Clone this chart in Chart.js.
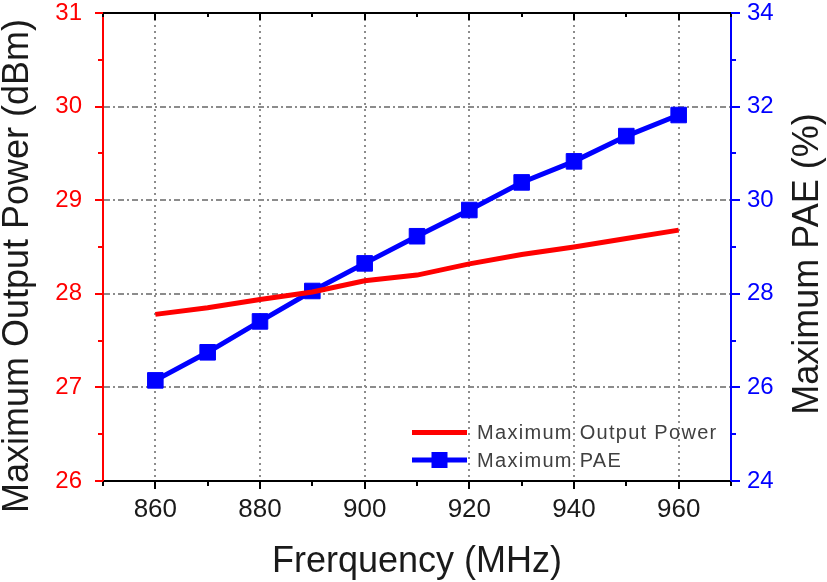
<!DOCTYPE html>
<html>
<head>
<meta charset="utf-8">
<script src="https://cdn.jsdelivr.net/npm/chart.js@4.4.1/dist/chart.umd.min.js"></script>
<style>
  html, body { margin: 0; padding: 0; background: #ffffff; }
  #wrap { width: 827px; height: 582px; position: relative; }
</style>
</head>
<body>
<div id="wrap"><canvas id="c" width="827" height="582"></canvas></div>
<script>
// ---- data ----
const frequencies = [860, 870, 880, 890, 900, 910, 920, 930, 940, 950, 960];
const outputPower = [27.78, 27.85, 27.94, 28.02, 28.14, 28.20, 28.32, 28.42, 28.50, 28.59, 28.68];
const pae = [26.15, 26.75, 27.41, 28.06, 28.65, 29.23, 29.79, 30.38, 30.83, 31.37, 31.82];
const xLabelTicks = [860, 880, 900, 920, 940, 960];
const leftLabelTicks = [26, 27, 28, 29, 30, 31];
const rightLabelTicks = [24, 26, 28, 30, 32, 34];
const seriesNames = ['Maximum Output Power', 'Maximum PAE'];
const xTitle = 'Frerquency (MHz)';
const leftTitle = 'Maximum Output Power (dBm)';
const rightTitle = 'Maximum PAE (%)';

const FONT = '"Liberation Sans", Arial, sans-serif';
const GRID = '#8c8c8c';

const toPoints = (ys) => frequencies.map((f, i) => ({x: f, y: ys[i]}));

const noPad = (s) => { s.paddingTop = 0; s.paddingBottom = 0; s.paddingLeft = 0; s.paddingRight = 0; };

const axisDecor = {
  id: 'axisDecor',
  afterDraw(chart) {
    const {ctx, chartArea: a, scales} = chart;
    ctx.save();
    ctx.lineWidth = 2;
    // top frame line
    ctx.strokeStyle = '#000';
    ctx.beginPath(); ctx.moveTo(a.left, a.top); ctx.lineTo(a.right + 1, a.top); ctx.stroke();
    // x ticks (bottom outward, top inward)
    scales.x.ticks.forEach(t => {
      const px = Math.round(scales.x.getPixelForValue(t.value));
      const major = xLabelTicks.includes(t.value);
      ctx.beginPath(); ctx.moveTo(px, a.bottom); ctx.lineTo(px, a.bottom + (major ? 8 : 5)); ctx.stroke();
      ctx.beginPath(); ctx.moveTo(px, a.top); ctx.lineTo(px, a.top + (major ? 7 : 4)); ctx.stroke();
    });
    // left ticks
    ctx.strokeStyle = '#ff0000';
    scales.y.ticks.forEach(t => {
      const py = Math.round(scales.y.getPixelForValue(t.value));
      const major = leftLabelTicks.includes(t.value);
      ctx.beginPath(); ctx.moveTo(a.left, py); ctx.lineTo(a.left - (major ? 8 : 5), py); ctx.stroke();
    });
    // right ticks
    ctx.strokeStyle = '#0000ff';
    scales.y1.ticks.forEach(t => {
      const py = Math.round(scales.y1.getPixelForValue(t.value));
      const major = rightLabelTicks.includes(t.value);
      ctx.beginPath(); ctx.moveTo(a.right, py); ctx.lineTo(a.right + (major ? 9 : 5), py); ctx.stroke();
    });
    // y axis titles
    ctx.fillStyle = '#1a1a1a';
    ctx.font = '36px ' + FONT;
    ctx.textAlign = 'center';
    ctx.textBaseline = 'middle';
    ctx.save(); ctx.translate(18.5, 266); ctx.rotate(-Math.PI / 2); ctx.fillText(leftTitle, 0, 0); ctx.restore();
    ctx.save(); ctx.translate(808.5, 264); ctx.rotate(-Math.PI / 2); ctx.fillText(rightTitle, 0, 0); ctx.restore();

    // legend inside plot
    const rows = [432.5, 460];
    chart.data.datasets.forEach((ds, i) => {
      const y = rows[i];
      ctx.strokeStyle = ds.borderColor;
      ctx.lineWidth = 5;
      ctx.beginPath(); ctx.moveTo(412, y); ctx.lineTo(467, y); ctx.stroke();
      if (ds.pointRadius > 0) {
        ctx.fillStyle = ds.pointBackgroundColor;
        ctx.fillRect(439.5 - 8, y - 8, 16, 16);
      }
      ctx.fillStyle = '#404040';
      ctx.font = '20px ' + FONT;
      ctx.textAlign = 'left';
      ctx.textBaseline = 'middle';
      try { ctx.letterSpacing = '1.3px'; } catch (e) {}
      ctx.fillText(ds.label, 477, y + 1);
      try { ctx.letterSpacing = '0px'; } catch (e) {}
    });
    ctx.restore();
  }
};

new Chart(document.getElementById('c'), {
  type: 'line',
  data: {
    datasets: [
      {
        label: seriesNames[0],
        data: toPoints(outputPower),
        yAxisID: 'y',
        borderColor: '#ff0000',
        backgroundColor: '#ff0000',
        borderWidth: 5,
        pointRadius: 0,
        pointBackgroundColor: '#ff0000',
        tension: 0
      },
      {
        label: seriesNames[1],
        data: toPoints(pae),
        yAxisID: 'y1',
        borderColor: '#0000ff',
        backgroundColor: '#0000ff',
        borderWidth: 5,
        pointStyle: 'rect',
        pointRadius: 11,
        pointBorderWidth: 1,
        pointBackgroundColor: '#0000ff',
        pointBorderColor: '#0000ff',
        tension: 0
      }
    ]
  },
  options: {
    responsive: false,
    animation: false,
    events: [],
    layout: { padding: { top: 13, left: 0, right: 0, bottom: 0 } },
    plugins: { legend: { display: false }, tooltip: { enabled: false }, title: { display: false } },
    scales: {
      x: {
        type: 'linear',
        min: 850, max: 970,
        afterFit: s => { s.height = 101; noPad(s); },
        ticks: {
          stepSize: 10, autoSkip: false, maxRotation: 0, padding: 13,
          color: '#1a1a1a', font: { family: FONT, size: 26 },
          callback: v => xLabelTicks.includes(v) ? String(v) : ''
        },
        grid: {
          drawTicks: false, lineWidth: 2,
          color: c => (c.tick && xLabelTicks.includes(c.tick.value)) ? GRID : 'rgba(0,0,0,0)'
        },
        border: { display: true, color: '#000', width: 2, dash: [2, 4] },
        title: {
          display: true, text: xTitle, color: '#1a1a1a',
          font: { family: FONT, size: 36, lineHeight: 1 },
          padding: { top: 0, bottom: 1.5 }
        }
      },
      y: {
        type: 'linear', position: 'left',
        min: 26, max: 31,
        afterFit: s => { s.width = 103; noPad(s); },
        ticks: {
          stepSize: 0.5, autoSkip: false, padding: 21,
          color: '#ff0000', font: { family: FONT, size: 24 },
          callback: v => leftLabelTicks.includes(v) ? String(v) : ''
        },
        grid: {
          drawTicks: false, lineWidth: 2,
          color: c => (c.tick && Number.isInteger(c.tick.value) && c.tick.value > 26 && c.tick.value < 31) ? GRID : 'rgba(0,0,0,0)'
        },
        border: { display: true, color: '#ff0000', width: 2, dash: [6, 3, 2, 3] }
      },
      y1: {
        type: 'linear', position: 'right',
        min: 24, max: 34,
        afterFit: s => { s.width = 96; noPad(s); },
        ticks: {
          stepSize: 1, autoSkip: false, padding: 16,
          color: '#0000ff', font: { family: FONT, size: 24 },
          callback: v => rightLabelTicks.includes(v) ? String(v) : ''
        },
        grid: { display: false, drawTicks: false },
        border: { display: true, color: '#0000ff', width: 2 }
      }
    }
  },
  plugins: [axisDecor]
});
</script>
</body>
</html>
